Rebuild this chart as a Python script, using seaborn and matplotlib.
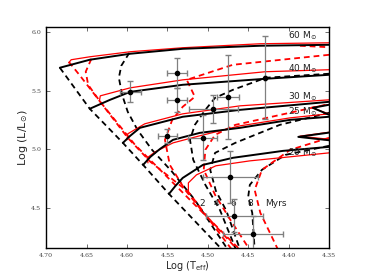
import numpy as np
import pandas as pd
import matplotlib
matplotlib.use("Agg")
import matplotlib.pyplot as plt
import seaborn as sns

# evolutionary tracks (log Teff, log L)
trk_b = {
    60: ([4.683, 4.646, 4.596, 4.531, 4.435, 4.35], [5.694, 5.762, 5.813, 5.855, 5.881, 5.889]),
    40: ([4.646, 4.621, 4.596, 4.531, 4.429, 4.35], [5.345, 5.421, 5.489, 5.549, 5.600, 5.634]),
    30: ([4.605, 4.596, 4.584, 4.531, 4.460, 4.35], [5.055, 5.115, 5.183, 5.277, 5.336, 5.404]),
    25: ([4.580, 4.571, 4.559, 4.543, 4.510, 4.460, 4.398, 4.35], [4.868, 4.936, 5.004, 5.081, 5.140, 5.183, 5.251, 5.277]),
    20: ([4.548, 4.540, 4.531, 4.506, 4.469, 4.407, 4.35], [4.621, 4.689, 4.757, 4.868, 4.928, 4.987, 5.021]),
}
trk_r = {
    60: ([4.672, 4.669, 4.646, 4.596, 4.531, 4.435, 4.35], [5.736, 5.762, 5.787, 5.830, 5.864, 5.898, 5.906]),
    40: ([4.634, 4.633, 4.596, 4.531, 4.429, 4.35], [5.413, 5.455, 5.523, 5.591, 5.660, 5.677]),
    30: ([4.600, 4.599, 4.578, 4.531, 4.460, 4.35], [5.081, 5.132, 5.217, 5.302, 5.370, 5.421]),
    25: ([4.574, 4.575, 4.565, 4.543, 4.510, 4.460, 4.398, 4.35], [4.885, 4.928, 4.979, 5.055, 5.115, 5.200, 5.268, 5.302]),
    20: ([4.524, 4.524, 4.514, 4.490, 4.448, 4.35], [4.638, 4.715, 4.783, 4.860, 4.902, 4.970]),
}
# blue loops near the right edge
loop_b = [([4.35, 4.370, 4.35], [5.294, 5.353, 5.379]), ([4.343, 4.388, 4.343], [5.072, 5.106, 5.149])]
loop_r = [([4.35, 4.372, 4.35], [5.300, 5.356, 5.382]), ([4.343, 4.386, 4.343], [5.080, 5.112, 5.152])]

# isochrones: ZAMS, 2, 4, 6, 8 Myr
iso_b = [
    ([4.683, 4.646, 4.605, 4.580, 4.548, 4.482], [5.694, 5.345, 5.055, 4.868, 4.621, 4.145]),
    ([4.597, 4.607, 4.610, 4.606, 4.599, 4.587, 4.569, 4.544, 4.516, 4.475],
     [5.821, 5.711, 5.609, 5.464, 5.319, 5.166, 4.996, 4.808, 4.570, 4.145]),
    ([4.35, 4.428, 4.469, 4.491, 4.503, 4.516, 4.522, 4.518, 4.503, 4.485, 4.465],
     [5.643, 5.609, 5.506, 5.438, 5.336, 5.208, 5.081, 4.911, 4.698, 4.485, 4.145]),
    ([4.35, 4.411, 4.466, 4.491, 4.497, 4.490, 4.477, 4.460], [5.311, 5.208, 5.055, 4.970, 4.826, 4.647, 4.477, 4.145]),
    ([4.35, 4.404, 4.433, 4.448, 4.450, 4.445, 4.442], [5.030, 4.953, 4.826, 4.698, 4.596, 4.460, 4.145]),
]
iso_r = [
    ([4.672, 4.658, 4.635, 4.599, 4.571, 4.524, 4.470], [5.745, 5.626, 5.421, 5.098, 4.894, 4.638, 4.145]),
    ([4.644, 4.651, 4.648, 4.633, 4.615, 4.590, 4.559, 4.522, 4.460],
     [5.770, 5.660, 5.549, 5.404, 5.251, 5.038, 4.826, 4.570, 4.145]),
    ([4.35, 4.469, 4.526, 4.516, 4.531, 4.544, 4.553, 4.547, 4.528, 4.503, 4.463],
     [5.804, 5.719, 5.591, 5.447, 5.362, 5.251, 5.081, 4.868, 4.655, 4.442, 4.145]),
    ([4.343, 4.466, 4.491, 4.503, 4.505, 4.491, 4.472, 4.448], [5.396, 5.208, 5.123, 4.996, 4.826, 4.613, 4.400, 4.145]),
    ([4.35, 4.398, 4.433, 4.442, 4.435, 4.413], [5.098, 4.996, 4.826, 4.655, 4.460, 4.145]),
    ([4.386, 4.343], [5.881, 5.866]),
]

# observed stars
star_x = [4.596, 4.538, 4.538, 4.475, 4.429, 4.493, 4.550, 4.506, 4.472, 4.467, 4.444]
star_y = [5.49, 5.65, 5.42, 5.445, 5.61, 5.345, 5.115, 5.10, 4.766, 4.434, 4.281]
star_xerr = [0.013, 0.012, 0.012, 0.014, 0.0, 0.03, 0.012, 0.018, 0.034, 0.035, 0.037]
star_yerr = [0.09, 0.13, 0.10, 0.36, 0.35, 0.12, 0.06, 0.19, 0.22, 0.14, 0.15]

mass_labels = ["60 M$_{\\odot}$", "40 M$_{\\odot}$", "30 M$_{\\odot}$", "25 M$_{\\odot}$", "20 M$_{\\odot}$"]
mass_label_y = [5.97, 5.685, 5.447, 5.32, 4.97]
age_labels = ["2", "4", "6", "8", "Myrs"]
age_label_x = [4.507, 4.489, 4.468, 4.447, 4.416]


def draw(xs, ys, color, lw, dashed=False):
    sns.lineplot(x=xs, y=ys, sort=False, estimator=None, color=color, lw=lw, ax=ax)
    if dashed:
        ax.lines[-1].set_dashes((3.2, 2.2))


sns.set_style("ticks")
fig, ax = plt.subplots(figsize=(3.66, 2.76), dpi=100)
fig.subplots_adjust(left=0.126, right=0.899, bottom=0.101, top=0.902)

for xs, ys in iso_b:
    draw(xs, ys, "black", 1.3, dashed=True)
for xs, ys in iso_r:
    draw(xs, ys, "red", 1.3, dashed=True)
for m, (xs, ys) in trk_r.items():
    draw(xs, ys, "red", 0.9)
for m, (xs, ys) in trk_b.items():
    draw(xs, ys, "black", 1.4)
for xs, ys in loop_r:
    draw(xs, ys, "red", 0.9)
for xs, ys in loop_b:
    draw(xs, ys, "black", 1.4)

ax.errorbar(star_x, star_y, xerr=star_xerr, yerr=star_yerr, fmt="o", color="black",
            ecolor="gray", elinewidth=0.9, capsize=2, ms=3, zorder=5)

for lab, yy in zip(mass_labels, mass_label_y):
    ax.text(4.401, yy, lab, fontsize=6.5, color="#222222", va="center", ha="left")
for lab, xx in zip(age_labels, age_label_x):
    ax.text(xx, 4.536, lab, fontsize=6.5, color="#222222", va="center", ha="center")

ax.set_xlim(4.70, 4.35)
ax.set_ylim(4.16, 6.04)
ax.set_xticks([4.70, 4.65, 4.60, 4.55, 4.50, 4.45, 4.40, 4.35])
ax.set_xticklabels(["4.70", "4.65", "4.60", "4.55", "4.50", "4.45", "4.40", "4.35"], family="DejaVu Serif")
ax.set_yticks([4.5, 5.0, 5.5, 6.0])
ax.set_yticklabels(["4.5", "5.0", "5.5", "6.0"], family="DejaVu Serif")
ax.tick_params(labelsize=4.5, direction="in", top=True, right=True, length=3, width=0.6, colors="#555555", labelcolor="#444444")
for s in ax.spines.values():
    s.set_linewidth(1.0)
    s.set_color("black")
ax.set_xlabel("Log (T$_{\\rm eff}$)", fontsize=7, labelpad=1)
ax.set_ylabel("Log (L/L$_{\\odot}$)", fontsize=8, labelpad=1)

fig.savefig("out.png", dpi=100)
